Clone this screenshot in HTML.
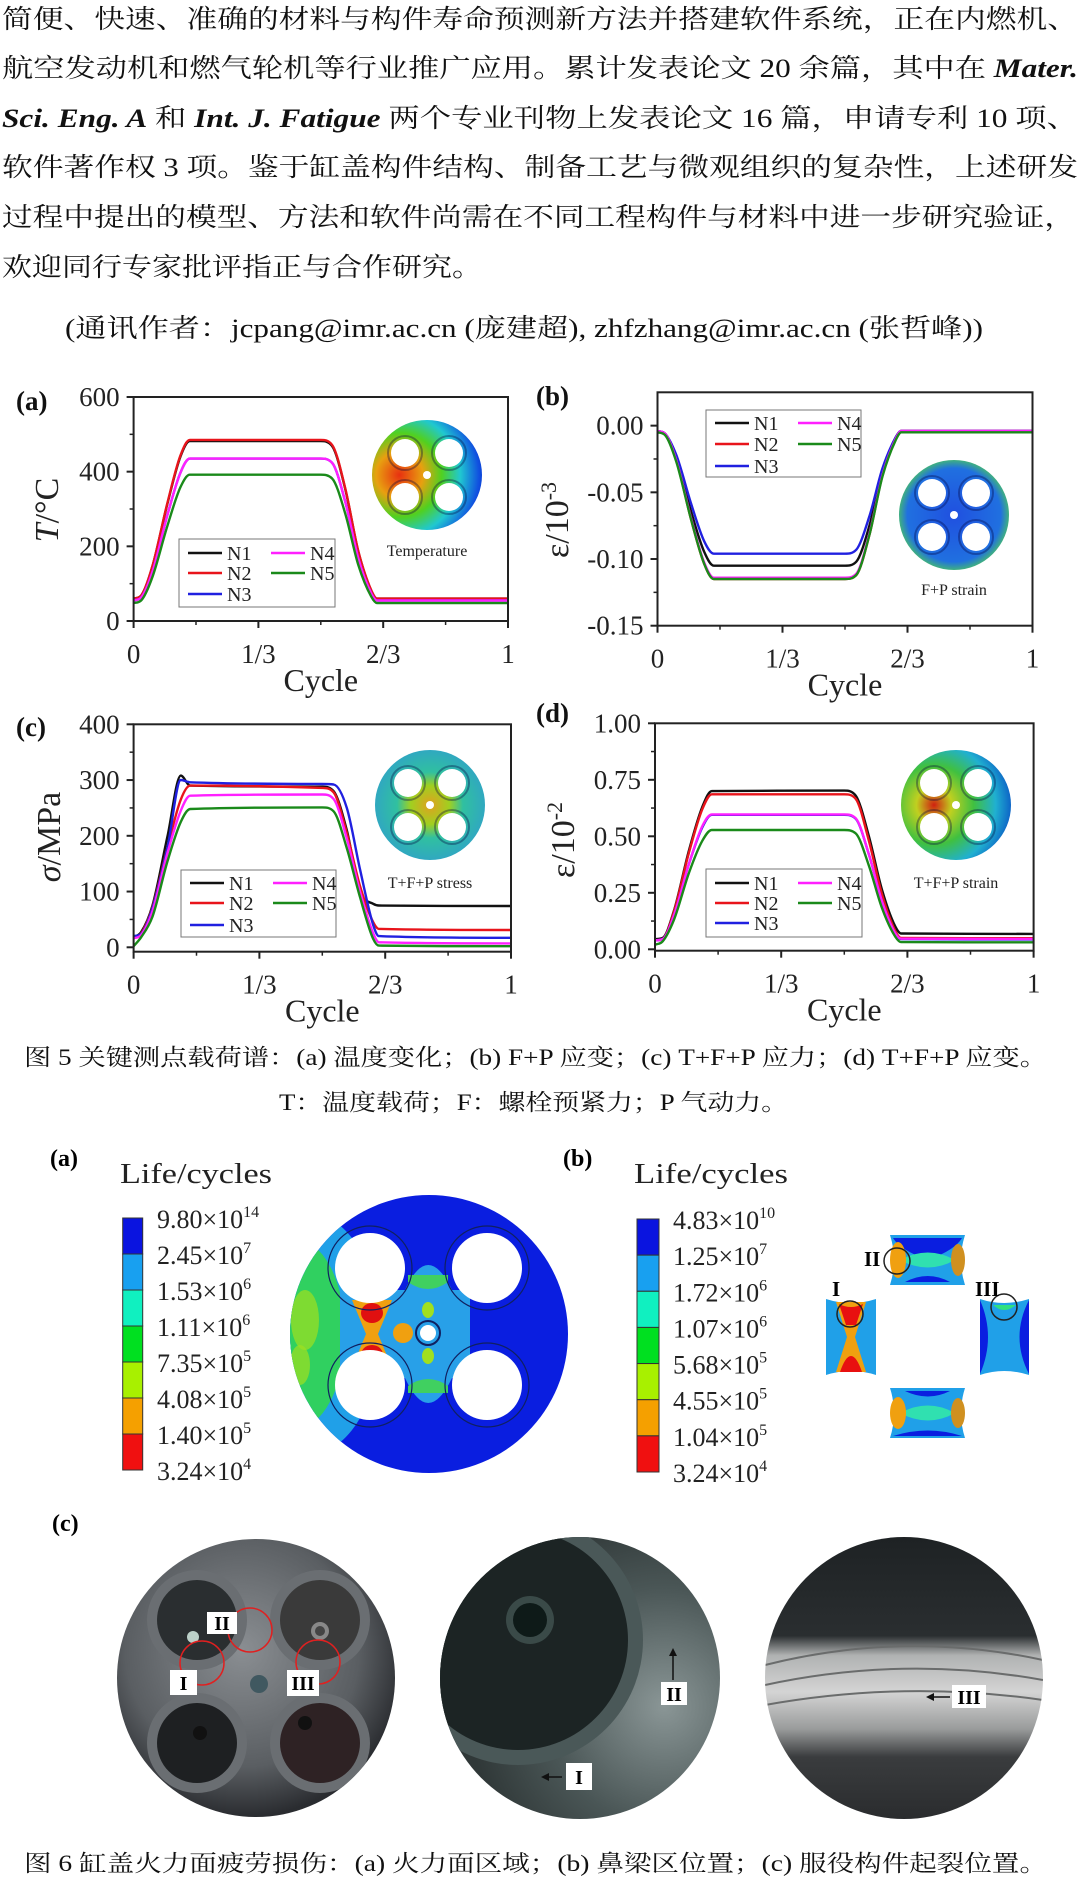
<!DOCTYPE html>
<html><head><meta charset="utf-8">
<style>
html,body{margin:0;padding:0;background:#fff;}
svg{display:block;}
.cn{font-family:"Liberation Serif","Noto Serif CJK SC",serif;}
.lt{font-family:"Liberation Serif",serif;}
</style></head>
<body>
<svg id="page" width="1080" height="1883" viewBox="0 0 1080 1883" xmlns="http://www.w3.org/2000/svg">
<defs>
  <radialGradient id="gTemp" cx="0.25" cy="0.5" r="0.85">
    <stop offset="0" stop-color="#e83010"/><stop offset="0.25" stop-color="#e8a010"/><stop offset="0.45" stop-color="#50d020"/><stop offset="0.65" stop-color="#20c8d0"/><stop offset="0.85" stop-color="#1050e0"/><stop offset="1" stop-color="#0020c0"/>
  </radialGradient>
  <radialGradient id="gFP" cx="0.5" cy="0.5" r="0.5">
    <stop offset="0" stop-color="#2050e0"/><stop offset="0.85" stop-color="#2070e0"/><stop offset="1" stop-color="#40b080"/>
  </radialGradient>
  <radialGradient id="gStress" cx="0.5" cy="0.5" r="0.5">
    <stop offset="0" stop-color="#e0a020"/><stop offset="0.35" stop-color="#a0d020"/><stop offset="0.6" stop-color="#30c0a0"/><stop offset="1" stop-color="#30a8c0"/>
  </radialGradient>
  <radialGradient id="gStrain" cx="0.3" cy="0.5" r="0.8">
    <stop offset="0" stop-color="#d02010"/><stop offset="0.2" stop-color="#c0d020"/><stop offset="0.45" stop-color="#40c040"/><stop offset="0.7" stop-color="#20b0d0"/><stop offset="1" stop-color="#0030c0"/>
  </radialGradient>
  <radialGradient id="gPhoto1" cx="0.45" cy="0.4" r="0.6">
    <stop offset="0" stop-color="#8a8e92"/><stop offset="0.7" stop-color="#5a5e62"/><stop offset="1" stop-color="#2a2c30"/>
  </radialGradient>
  <radialGradient id="gPhoto2" cx="0.8" cy="0.6" r="0.7">
    <stop offset="0" stop-color="#8a9696"/><stop offset="0.6" stop-color="#4a5656"/><stop offset="1" stop-color="#303838"/>
  </radialGradient>
  <linearGradient id="gPhoto3" x1="0" y1="0" x2="0" y2="1">
    <stop offset="0" stop-color="#1e2224"/><stop offset="0.35" stop-color="#2a2e30"/><stop offset="0.42" stop-color="#b0b2b2"/><stop offset="0.55" stop-color="#d4d4d4"/><stop offset="0.68" stop-color="#9a9c9c"/><stop offset="0.78" stop-color="#3a3c3e"/><stop offset="1" stop-color="#2a2c2e"/>
  </linearGradient>
  <clipPath id="clipDisk"><circle cx="429" cy="1334" r="139"/></clipPath>
  <clipPath id="clipP1"><ellipse cx="256" cy="1678" rx="139" ry="139"/></clipPath>
  <clipPath id="clipP2"><ellipse cx="580" cy="1678" rx="140" ry="141"/></clipPath>
  <clipPath id="clipP3"><ellipse cx="904" cy="1678" rx="139" ry="141"/></clipPath>
</defs>

<g class="cn" font-size="26" fill="#111">
  <text x="2" y="28" textLength="1076" lengthAdjust="spacingAndGlyphs">简便、快速、准确的材料与构件寿命预测新方法并搭建软件系统，正在内燃机、</text>
  <text x="2" y="77" textLength="1076" lengthAdjust="spacingAndGlyphs">航空发动机和燃气轮机等行业推广应用。累计发表论文 20 余篇，其中在 <tspan font-style="italic" font-weight="bold">Mater.</tspan></text>
  <text x="2" y="127" textLength="1076" lengthAdjust="spacingAndGlyphs"><tspan font-style="italic" font-weight="bold">Sci. Eng. A</tspan> 和 <tspan font-style="italic" font-weight="bold">Int. J. Fatigue</tspan> 两个专业刊物上发表论文 16 篇，申请专利 10 项、</text>
  <text x="2" y="176" textLength="1076" lengthAdjust="spacingAndGlyphs">软件著作权 3 项。鉴于缸盖构件结构、制备工艺与微观组织的复杂性，上述研发</text>
  <text x="2" y="226" textLength="1073" lengthAdjust="spacingAndGlyphs">过程中提出的模型、方法和软件尚需在不同工程构件与材料中进一步研究验证，</text>
  <text x="2" y="276" textLength="480" lengthAdjust="spacingAndGlyphs">欢迎同行专家批评指正与合作研究。</text>
  <text x="65" y="337" textLength="918" lengthAdjust="spacingAndGlyphs">(通讯作者：jcpang@imr.ac.cn (庞建超), zhfzhang@imr.ac.cn (张哲峰))</text>
</g>

<g id="charts"></g>

<g class="cn" font-size="23" fill="#111">
  <text x="24" y="1065" textLength="1023" lengthAdjust="spacingAndGlyphs">图 5 关键测点载荷谱：(a) 温度变化；(b) F+P 应变；(c) T+F+P 应力；(d) T+F+P 应变。</text>
  <text x="279" y="1110" textLength="509" lengthAdjust="spacingAndGlyphs">T：温度载荷；F：螺栓预紧力；P 气动力。</text>
</g>

<g>
  <text class="lt" x="50" y="1166" font-size="24" font-weight="bold">(a)</text>
  <text class="lt" x="120" y="1183" font-size="29" textLength="152" lengthAdjust="spacingAndGlyphs" fill="#222">Life/cycles</text>
  <g id="cbA"></g>
  <g>
    <circle cx="429" cy="1334" r="139" fill="#0a1ee0"/>
    <g clip-path="url(#clipDisk)">
      <ellipse cx="310" cy="1334" rx="70" ry="120" fill="#20a0e8"/>
      <ellipse cx="295" cy="1334" rx="50" ry="95" fill="#30d060"/>
      <ellipse cx="305" cy="1320" rx="14" ry="30" fill="#a0e020" opacity="0.7"/>
      <ellipse cx="300" cy="1365" rx="10" ry="20" fill="#a0e020" opacity="0.7"/>
      <path d="M340 1290 L405 1290 Q428 1240 452 1290 L470 1290 L470 1378 L452 1378 Q428 1428 405 1378 L340 1378 Z" fill="#28a0e8"/>
      <path d="M352 1300 L392 1300 L378 1334 L392 1368 L352 1368 L366 1334 Z" fill="#f0a010"/>
      <ellipse cx="372" cy="1313" rx="11" ry="10" fill="#e01010"/>
      <ellipse cx="372" cy="1355" rx="11" ry="10" fill="#e01010"/>
      <ellipse cx="403" cy="1333" rx="10" ry="10" fill="#f0a010"/>
      <ellipse cx="428" cy="1310" rx="6" ry="8" fill="#a0e020"/>
      <ellipse cx="428" cy="1356" rx="6" ry="8" fill="#a0e020"/>
      <path d="M408 1282 Q428 1296 448 1282 L448 1275 L408 1275 Z" fill="#40d060"/>
      <path d="M408 1386 Q428 1372 448 1386 L448 1393 L408 1393 Z" fill="#40d060"/>
    </g>
    <circle cx="370" cy="1268" r="42" fill="none" stroke="#102060" stroke-width="1.2"/>
    <circle cx="487" cy="1268" r="42" fill="none" stroke="#102060" stroke-width="1.2"/>
    <circle cx="370" cy="1385" r="42" fill="none" stroke="#102060" stroke-width="1.2"/>
    <circle cx="487" cy="1385" r="42" fill="none" stroke="#102060" stroke-width="1.2"/>
    <circle cx="370" cy="1268" r="35" fill="#fff"/>
    <circle cx="487" cy="1268" r="35" fill="#fff"/>
    <circle cx="370" cy="1385" r="35" fill="#fff"/>
    <circle cx="487" cy="1385" r="35" fill="#fff"/>
    <circle cx="428" cy="1333" r="12" fill="none" stroke="#102060" stroke-width="2"/>
    <circle cx="428" cy="1333" r="8" fill="#fff"/>
  </g>
</g>

<g>
  <text class="lt" x="563" y="1166" font-size="24" font-weight="bold">(b)</text>
  <text class="lt" x="634" y="1183" font-size="29" textLength="154" lengthAdjust="spacingAndGlyphs" fill="#222">Life/cycles</text>
  <g id="cbB"></g>
  <g>
    <path d="M890 1235 L965 1235 Q957 1260 965 1285 L890 1285 Q898 1260 890 1235 Z" fill="#20a0e8"/>
    <path d="M893 1238 L962 1238 Q955 1250 928 1260 Q900 1250 893 1238 Z" fill="#0a1ee0"/>
    <path d="M900 1260 Q928 1245 955 1260 Q928 1275 900 1260 Z" fill="#30e0b0"/>
    <ellipse cx="898" cy="1260" rx="8" ry="18" fill="#f0a010"/>
    <ellipse cx="958" cy="1260" rx="7" ry="16" fill="#d09020"/>
    <path d="M905 1282 Q928 1270 950 1282 Z" fill="#0a1ee0"/>
  </g>
  <g>
    <path d="M826 1299 Q851 1307 876 1299 L876 1375 Q851 1367 826 1375 Z" fill="#20a0e8"/>
    <path d="M836 1302 L866 1302 L855 1337 L866 1372 L836 1372 L847 1337 Z" fill="#f0a010"/>
    <path d="M839 1304 Q851 1310 863 1304 L856 1325 L846 1325 Z" fill="#e81010"/>
    <path d="M840 1372 Q851 1340 862 1372 Z" fill="#e81010"/>
  </g>
  <g>
    <path d="M980 1299 Q1004 1307 1029 1299 L1029 1375 Q1004 1367 980 1375 Z" fill="#20a0e8"/>
    <path d="M980 1300 Q996 1337 980 1374 Z" fill="#0a1ee0"/>
    <path d="M1029 1300 Q1010 1337 1029 1374 Z" fill="#0a1ee0"/>
    <path d="M993 1305 Q1004 1315 1016 1305 Z" fill="#30e080"/>
  </g>
  <g>
    <path d="M890 1388 L965 1388 Q957 1413 965 1438 L890 1438 Q898 1413 890 1388 Z" fill="#20a0e8"/>
    <path d="M905 1391 Q928 1402 950 1391 Z" fill="#0a1ee0"/>
    <path d="M900 1413 Q928 1398 955 1413 Q928 1428 900 1413 Z" fill="#30e0b0"/>
    <ellipse cx="898" cy="1413" rx="8" ry="16" fill="#f0a010"/>
    <ellipse cx="958" cy="1413" rx="7" ry="15" fill="#d09020"/>
    <path d="M893 1436 Q928 1425 962 1436 Z" fill="#0a1ee0"/>
  </g>
  <circle cx="850" cy="1314" r="13" fill="none" stroke="#222" stroke-width="1.5"/>
  <circle cx="897" cy="1261" r="13" fill="none" stroke="#222" stroke-width="1.5"/>
  <circle cx="1004" cy="1307" r="13" fill="none" stroke="#222" stroke-width="1.5"/>
  <text class="lt" x="832" y="1296" font-size="21" font-weight="bold">I</text>
  <text class="lt" x="864" y="1266" font-size="21" font-weight="bold">II</text>
  <text class="lt" x="975" y="1296" font-size="21" font-weight="bold">III</text>
</g>

<g>
  <text class="lt" x="52" y="1531" font-size="24" font-weight="bold">(c)</text>
  <g>
    <ellipse cx="256" cy="1678" rx="139" ry="139" fill="url(#gPhoto1)"/>
    <g clip-path="url(#clipP1)">
      <circle cx="197" cy="1620" r="50" fill="#6a6e72"/><circle cx="197" cy="1620" r="40" fill="#2a2e30"/><circle cx="193" cy="1637" r="6" fill="#bcd0c8"/>
      <circle cx="320" cy="1620" r="50" fill="#6a6e72"/><circle cx="320" cy="1620" r="40" fill="#3a3a3a"/><circle cx="320" cy="1631" r="9" fill="#888"/><circle cx="320" cy="1631" r="5" fill="#444"/>
      <circle cx="197" cy="1743" r="50" fill="#6a6e72"/><circle cx="197" cy="1743" r="40" fill="#1e2022"/><circle cx="200" cy="1733" r="7" fill="#111"/>
      <circle cx="320" cy="1743" r="50" fill="#6a6e72"/><circle cx="320" cy="1743" r="40" fill="#2e2224"/><circle cx="305" cy="1723" r="7" fill="#111"/>
      <circle cx="259" cy="1684" r="9" fill="#405860"/>
    </g>
    <circle cx="250" cy="1630" r="22" fill="none" stroke="#e02020" stroke-width="1.5"/>
    <circle cx="202" cy="1663" r="22" fill="none" stroke="#e02020" stroke-width="1.5"/>
    <circle cx="318" cy="1662" r="22" fill="none" stroke="#e02020" stroke-width="1.5"/>
    <rect x="207" y="1612" width="30" height="22" fill="#fff"/><text class="lt" x="222" y="1630" font-size="20" font-weight="bold" text-anchor="middle">II</text>
    <rect x="170" y="1670" width="27" height="25" fill="#fff"/><text class="lt" x="183.5" y="1690" font-size="20" font-weight="bold" text-anchor="middle">I</text>
    <rect x="287" y="1670" width="32" height="26" fill="#fff"/><text class="lt" x="303" y="1690" font-size="20" font-weight="bold" text-anchor="middle">III</text>
  </g>
  <g>
    <ellipse cx="580" cy="1678" rx="140" ry="141" fill="url(#gPhoto2)"/>
    <g clip-path="url(#clipP2)">
      <circle cx="518" cy="1640" r="125" fill="#4a5858"/>
      <circle cx="518" cy="1640" r="110" fill="#1c2424"/>
      <circle cx="530" cy="1620" r="24" fill="#3a4a48"/><circle cx="530" cy="1620" r="17" fill="#0e1a18"/>
    </g>
    <line x1="673" y1="1680" x2="673" y2="1652" stroke="#111" stroke-width="1.5"/><path d="M669 1656 L673 1648 L677 1656 Z" fill="#111"/>
    <rect x="661" y="1682" width="26" height="23" fill="#fff"/><text class="lt" x="674" y="1701" font-size="20" font-weight="bold" text-anchor="middle">II</text>
    <line x1="562" y1="1777" x2="545" y2="1777" stroke="#111" stroke-width="1.5"/><path d="M549 1773 L541 1777 L549 1781 Z" fill="#111"/>
    <rect x="566" y="1763" width="26" height="27" fill="#fff"/><text class="lt" x="579" y="1784" font-size="20" font-weight="bold" text-anchor="middle">I</text>
  </g>
  <g>
    <ellipse cx="904" cy="1678" rx="139" ry="141" fill="url(#gPhoto3)"/>
    <g clip-path="url(#clipP3)" fill="none" stroke="#6a6c6c" stroke-width="2">
      <path d="M765 1665 Q904 1630 1043 1660"/><path d="M765 1685 Q904 1655 1043 1680"/><path d="M765 1705 Q904 1680 1043 1700"/>
    </g>
    <line x1="950" y1="1697" x2="930" y2="1697" stroke="#111" stroke-width="1.5"/><path d="M934 1693 L926 1697 L934 1701 Z" fill="#111"/>
    <rect x="952" y="1685" width="34" height="23" fill="#fff"/><text class="lt" x="969" y="1704" font-size="20" font-weight="bold" text-anchor="middle">III</text>
  </g>
</g>

<text class="cn" x="24" y="1871" font-size="23" fill="#111" textLength="1023" lengthAdjust="spacingAndGlyphs">图 6 缸盖火力面疲劳损伤：(a) 火力面区域；(b) 鼻梁区位置；(c) 服役构件起裂位置。</text>
</svg>

<script>
const cycleKnots = [0, 0.02, 0.05, 0.09, 0.125, 0.15, 0.5, 0.53, 0.565, 0.6, 0.635, 0.65, 1];
const seriesNames = ["N1", "N2", "N3", "N4", "N5"];
const xTickLabels = ["0", "1/3", "2/3", "1"];
const xTickValues = [0, 1/3, 2/3, 1];

const tempN1 = [60, 68, 145, 313, 440, 482, 482, 469, 355, 187, 81, 60, 60];
const tempN2 = [60, 68, 146, 315, 443, 485, 485, 472, 357, 188, 82, 60, 60];
const tempN3 = [55, 63, 131, 283, 397, 435, 435, 424, 321, 169, 74, 55, 55];
const tempN4 = [55, 63, 131, 283, 397, 435, 435, 424, 321, 169, 74, 55, 55];
const tempN5 = [48, 55, 117, 254, 358, 392, 392, 382, 289, 151, 65, 48, 48];
const tempTicks = [0, 200, 400, 600];
const tempTickLabels = ["0", "200", "400", "600"];

const fpN1 = [-0.004, -0.006, -0.024, -0.065, -0.095, -0.105, -0.105, -0.102, -0.075, -0.034, -0.009, -0.004, -0.004];
const fpN2 = [-0.004, -0.006, -0.026, -0.071, -0.104, -0.115, -0.115, -0.112, -0.082, -0.037, -0.010, -0.004, -0.004];
const fpN3 = [-0.004, -0.006, -0.022, -0.059, -0.087, -0.096, -0.096, -0.093, -0.068, -0.032, -0.009, -0.004, -0.004];
const fpN4 = [-0.004, -0.006, -0.026, -0.070, -0.103, -0.114, -0.114, -0.111, -0.081, -0.037, -0.010, -0.004, -0.004];
const fpN5 = [-0.005, -0.007, -0.027, -0.071, -0.104, -0.115, -0.115, -0.112, -0.082, -0.038, -0.011, -0.005, -0.005];
const fpTicks = [0, -0.05, -0.10, -0.15];
const fpTickLabels = ["0.00", "-0.05", "-0.10", "-0.15"];

const stressN1 = [18, 27, 75, 200, 308, 290, 288, 280, 210, 100, 78, 75, 74];
const stressN2 = [18, 25, 72, 180, 265, 290, 286, 278, 205, 110, 45, 33, 31];
const stressN3 = [20, 24, 70, 180, 300, 296, 293, 292, 250, 140, 40, 20, 17];
const stressN4 = [16, 22, 65, 170, 245, 272, 274, 266, 195, 100, 25, 9, 7];
const stressN5 = [2, 18, 55, 155, 225, 248, 251, 244, 178, 90, 15, 3, 2];
const stressTicks = [0, 100, 200, 300, 400];
const stressTickLabels = ["0", "100", "200", "300", "400"];

const strainN1 = [0.045, 0.05, 0.17, 0.44, 0.63, 0.700, 0.702, 0.68, 0.50, 0.26, 0.10, 0.07, 0.068];
const strainN2 = [0.04, 0.045, 0.165, 0.43, 0.62, 0.686, 0.686, 0.666, 0.48, 0.24, 0.08, 0.05, 0.049];
const strainN3 = [0.04, 0.045, 0.15, 0.38, 0.54, 0.595, 0.595, 0.578, 0.42, 0.21, 0.07, 0.045, 0.044];
const strainN4 = [0.04, 0.045, 0.15, 0.38, 0.545, 0.597, 0.597, 0.58, 0.42, 0.21, 0.07, 0.047, 0.046];
const strainN5 = [0.02, 0.035, 0.13, 0.34, 0.48, 0.528, 0.528, 0.513, 0.37, 0.18, 0.055, 0.032, 0.031];
const strainTicks = [0, 0.25, 0.5, 0.75, 1.0];
const strainTickLabels = ["0.00", "0.25", "0.50", "0.75", "1.00"];

const cbColors = ["#0a14e0", "#18a0f0", "#10f0c0", "#00e020", "#a8f000", "#f5a000", "#f01010"];
const cbALabels = [["9.80", "14"], ["2.45", "7"], ["1.53", "6"], ["1.11", "6"], ["7.35", "5"], ["4.08", "5"], ["1.40", "5"], ["3.24", "4"]];
const cbBLabels = [["4.83", "10"], ["1.25", "7"], ["1.72", "6"], ["1.07", "6"], ["5.68", "5"], ["4.55", "5"], ["1.04", "5"], ["3.24", "4"]];

const NS = "http://www.w3.org/2000/svg";
const colors = ["#111111", "#e8141b", "#2020e0", "#ff20ff", "#1a8a1a"];
function mk(tag, attrs, parent) {
  const e = document.createElementNS(NS, tag);
  for (const k in attrs) e.setAttribute(k, attrs[k]);
  if (parent) parent.appendChild(e);
  return e;
}
function monotonePath(px, py) {
  const n = px.length, d = [], m = [];
  for (let i = 0; i < n - 1; i++) d.push((py[i+1] - py[i]) / (px[i+1] - px[i]));
  m.push(d[0]);
  for (let i = 1; i < n - 1; i++) m.push(d[i-1] * d[i] <= 0 ? 0 : (d[i-1] + d[i]) / 2);
  m.push(d[n-2]);
  for (let i = 0; i < n - 1; i++) {
    if (d[i] === 0) { m[i] = 0; m[i+1] = 0; continue; }
    const a = m[i] / d[i], b = m[i+1] / d[i], s = a*a + b*b;
    if (s > 9) { const t = 3 / Math.sqrt(s); m[i] = t*a*d[i]; m[i+1] = t*b*d[i]; }
  }
  let p = "M" + px[0].toFixed(1) + " " + py[0].toFixed(1);
  for (let i = 0; i < n - 1; i++) {
    const h = (px[i+1] - px[i]) / 3;
    p += " C" + (px[i]+h).toFixed(1) + " " + (py[i]+m[i]*h).toFixed(1) + " " + (px[i+1]-h).toFixed(1) + " " + (py[i+1]-m[i+1]*h).toFixed(1) + " " + px[i+1].toFixed(1) + " " + py[i+1].toFixed(1);
  }
  return p;
}

function drawChart(c) {
  const root = document.getElementById("charts");
  const g = mk("g", {}, root);
  
  
  const sx = v => c.x0 + (c.x1 - c.x0) * v;
  const sy = v => c.yB + (c.yT - c.yB) * (v - c.vmin) / (c.vmax - c.vmin);
  const sg = mk("g", {}, g);
  c.series.forEach((arr, i) => {
    const px = cycleKnots.map(sx), py = arr.map(sy);
    const path = mk("path", {d: monotonePath(px, py), fill: "none", stroke: colors[i], "stroke-width": 2.4}, sg);
    
    
  });
  const fr = mk("rect", {x: c.x0, y: c.yT, width: c.x1 - c.x0, height: c.axisY - c.yT, fill: "none", stroke: "#222", "stroke-width": 2}, g);
  
  
  const yg = mk("g", {}, g);
  
  
  c.ticks.forEach((t, i) => {
    const y = sy(t);
    mk("line", {x1: c.x0 - 7, x2: c.x0, y1: y, y2: y, stroke: "#222", "stroke-width": 2}, yg);
    const tx = mk("text", {x: c.x0 - 14, y: y + 9, "font-size": 27, "text-anchor": "end", "font-family": "Liberation Serif, serif", fill: "#222"}, yg);
    tx.textContent = c.tickLabels[i];
    
    
    if (i < c.ticks.length - 1) {
      const ym = sy((t + c.ticks[i+1]) / 2);
      mk("line", {x1: c.x0 - 4, x2: c.x0, y1: ym, y2: ym, stroke: "#222", "stroke-width": 1.5}, yg);
    }
  });
  const xg = mk("g", {}, g);
  
  
  xTickValues.forEach((t, i) => {
    const x = sx(t);
    mk("line", {x1: x, x2: x, y1: c.axisY, y2: c.axisY + 7, stroke: "#222", "stroke-width": 2}, xg);
    const tx = mk("text", {x: x, y: c.axisY + 42, "font-size": 27, "text-anchor": "middle", "font-family": "Liberation Serif, serif", fill: "#222"}, xg);
    tx.textContent = xTickLabels[i];
    
    
    if (i < xTickValues.length - 1) {
      const xm = sx((t + xTickValues[i+1]) / 2);
      mk("line", {x1: xm, x2: xm, y1: c.axisY, y2: c.axisY + 4, stroke: "#222", "stroke-width": 1.5}, xg);
    }
  });
  const xl = mk("text", {x: (c.x0 + c.x1) / 2, y: c.axisY + 70, "font-size": 32, "text-anchor": "middle", "font-family": "Liberation Serif, serif", fill: "#222"}, g);
  xl.textContent = "Cycle";
  
  
  const yl = mk("text", {x: 0, y: 0, transform: "translate(" + c.ylx + "," + c.yly + ") rotate(-90)", "font-size": 34, "text-anchor": "middle", "font-family": "Liberation Serif, serif", fill: "#222"}, g);
  yl.innerHTML = c.ylabel;
  
  
  const pl = mk("text", {x: c.plx, y: c.ply, "font-size": 27, "font-weight": "bold", "font-family": "Liberation Serif, serif", fill: "#111"}, g);
  pl.textContent = c.panel;
  
  
  const L = c.legend;
  const lg = mk("g", {}, g);
  
  
  mk("rect", {x: L.x, y: L.y, width: L.w, height: L.h, fill: "#fff", stroke: "#777", "stroke-width": 1}, lg);
  const pos = [[0, 0], [0, 1], [0, 2], [1, 0], [1, 1]];
  seriesNames.forEach((nm, i) => {
    const col = pos[i][0], row = pos[i][1];
    const lx = L.x + 9 + col * 83, ly = L.rows[row];
    mk("line", {x1: lx, x2: lx + 34, y1: ly, y2: ly, stroke: colors[i], "stroke-width": 2.4}, lg);
    const t = mk("text", {x: lx + 39, y: ly + 7, "font-size": 20, "font-family": "Liberation Serif, serif", fill: "#222"}, lg);
    t.textContent = nm;
    
    
  });
  const I = c.inset;
  const ig = mk("g", {}, g);
  
  
  mk("circle", {cx: I.cx, cy: I.cy, r: 55, fill: "url(#" + I.grad + ")"}, ig);
  [[-22, -22], [22, -22], [-22, 22], [22, 22]].forEach(o => {
    mk("circle", {cx: I.cx + o[0], cy: I.cy + o[1], r: 17, fill: "none", stroke: "rgba(0,0,60,0.35)", "stroke-width": 2}, ig);
    mk("circle", {cx: I.cx + o[0], cy: I.cy + o[1], r: 14, fill: "#fff"}, ig);
  });
  mk("circle", {cx: I.cx, cy: I.cy, r: 4, fill: "#fff"}, ig);
  const it = mk("text", {x: I.cx, y: I.ty, "font-size": 16, "text-anchor": "middle", "font-family": "Liberation Serif, serif", fill: "#222"}, ig);
  it.textContent = I.label;
  
  
}

drawChart({name: "chart-a-temperature", x0: 133.6, x1: 508, yT: 397, yB: 621, axisY: 621, vmin: 0, vmax: 600,
  ticks: tempTicks, tickLabels: tempTickLabels, series: [tempN1, tempN2, tempN3, tempN4, tempN5],
  ylabel: '<tspan font-style="italic">T</tspan>/°C', ylx: 58, yly: 510, panel: "(a)", plx: 16, ply: 410,
  legend: {x: 179, y: 539, w: 156, h: 68, rows: [553, 573, 594]},
  inset: {cx: 427, cy: 475, grad: "gTemp", label: "Temperature", ty: 556}});
drawChart({name: "chart-b-fp-strain", x0: 657.5, x1: 1032.5, yT: 392.3, yB: 625.7, axisY: 625.7, vmin: -0.15, vmax: 0.025,
  ticks: fpTicks, tickLabels: fpTickLabels, series: [fpN1, fpN2, fpN3, fpN4, fpN5],
  ylabel: 'ε/10<tspan font-size="22" dy="-12">-3</tspan>', ylx: 568, yly: 520, panel: "(b)", plx: 536, ply: 405,
  legend: {x: 706, y: 410, w: 155, h: 67, rows: [423, 444, 466]},
  inset: {cx: 954, cy: 515, grad: "gFP", label: "F+P strain", ty: 595}});
drawChart({name: "chart-c-stress", x0: 133.6, x1: 511, yT: 724.3, yB: 947.3, axisY: 951.7, vmin: 0, vmax: 400,
  ticks: stressTicks, tickLabels: stressTickLabels, series: [stressN1, stressN2, stressN3, stressN4, stressN5],
  ylabel: '<tspan font-style="italic">σ</tspan>/MPa', ylx: 60, yly: 837, panel: "(c)", plx: 16, ply: 736,
  legend: {x: 181, y: 870, w: 155, h: 67, rows: [883, 903, 925]},
  inset: {cx: 430, cy: 805, grad: "gStress", label: "T+F+P stress", ty: 888}});
drawChart({name: "chart-d-strain", x0: 655, x1: 1033.6, yT: 723.3, yB: 949.3, axisY: 950.7, vmin: 0, vmax: 1,
  ticks: strainTicks, tickLabels: strainTickLabels, series: [strainN1, strainN2, strainN3, strainN4, strainN5],
  ylabel: 'ε/10<tspan font-size="22" dy="-12">-2</tspan>', ylx: 574, yly: 840, panel: "(d)", plx: 536, ply: 722,
  legend: {x: 706, y: 869, w: 156, h: 68, rows: [883, 903, 923]},
  inset: {cx: 956, cy: 805, grad: "gStrain", label: "T+F+P strain", ty: 888}});

function drawColorbar(id, x, y0, y1, w, labels, lx) {
  const g = document.getElementById(id);
  const h = (y1 - y0) / cbColors.length;
  cbColors.forEach((c, i) => {
    const r = mk("rect", {x: x, y: y0 + i * h, width: w, height: h, fill: c, stroke: "#333", "stroke-width": 1}, g);
    
    
  });
  labels.forEach((l, i) => {
    const t = mk("text", {x: lx, y: y0 + i * h + 10, "font-size": 26, "font-family": "Liberation Serif, serif", fill: "#222"}, g);
    t.innerHTML = l[0] + "×10<tspan font-size='16' dy='-11'>" + l[1] + "</tspan>";
    
    
  });
}
drawColorbar("cbA", 122.7, 1218, 1470, 20, cbALabels, 157);
drawColorbar("cbB", 637, 1219, 1472, 22, cbBLabels, 673);
</script>
</body></html>
